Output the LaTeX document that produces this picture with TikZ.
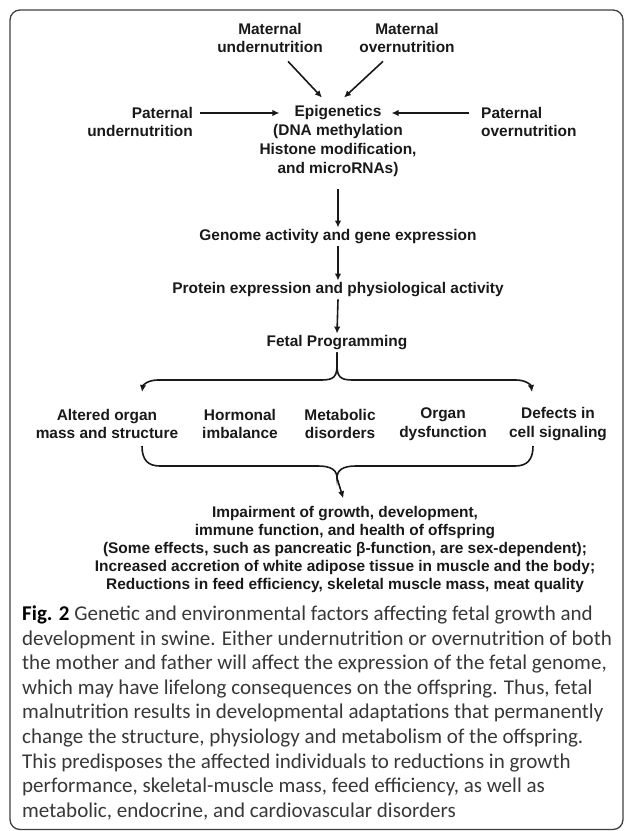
\documentclass[tikz,border=0pt]{standalone}
\usepackage{fontspec}
\setmainfont{Liberation Sans}
\newfontfamily\capfont{Carlito}
\usetikzlibrary{arrows.meta,positioning}

\begin{document}
\begin{tikzpicture}[x=1bp,y=-1bp,
  box/.style={font=\fontsize{15.5}{19}\selectfont\bfseries, align=center, inner sep=2bp, text=black!90},
  arr/.style={-{Latex[length=7bp,width=6.5bp]}, line width=1.6bp, black!90},
  brace/.style={line width=1.6bp, black!90}]
\useasboundingbox (0,0) rectangle (627,831);
\draw[black!75, line width=1.3bp, rounded corners=10bp] (10,10) rectangle (623,829.5);
% sources
\node[box] (MatUnder) at (270,38) {Maternal\\undernutrition};
\node[box] (MatOver) at (407,38) {Maternal\\overnutrition};
\node[box, align=right, anchor=east] (PatUnder) at (195,122) {Paternal\\undernutrition};
\node[box, align=left, anchor=west] (PatOver) at (479,122) {Paternal\\overnutrition};
\node[box] (Epi) at (338,113) {Epigenetics};
\node[box, below=0bp of Epi] (Mech) {(DNA methylation\\Histone modification,\\and microRNAs)};
\draw[arr] ([xshift=18bp,yshift=-6bp]MatUnder.south) -- ([xshift=-16bp,yshift=6bp]Epi.north);
\draw[arr] ([xshift=-24bp,yshift=-6bp]MatOver.south) -- ([xshift=6bp,yshift=6bp]Epi.north);
\draw[arr, shorten <=5bp, shorten >=13bp] (PatUnder.east |- Epi.west) -- (Epi.west);
\draw[arr, shorten <=10bp, shorten >=8bp] (PatOver.west |- Epi.east) -- (Epi.east);
% chain
\node[box] (Genome) at (338,237) {Genome activity and gene expression};
\node[box] (Protein) at (338,290) {Protein expression and physiological activity};
\node[box] (Fetal) at (337,343) {Fetal Programming};
\draw[arr, shorten <=10bp] (Mech.south) -- (Genome.north);
\draw[arr] (Genome.south) -- (Protein.north);
\draw[arr] (Protein.south) -- (Fetal.north);
% outcomes
\node[box] (Altered) at (107,424) {Altered organ\\mass and structure};
\node[box] (Hormonal) at (240,424) {Hormonal\\imbalance};
\node[box] (Metabolic) at (340,424) {Metabolic\\disorders};
\node[box] (Organ) at (443,424) {Organ\\dysfunction};
\node[box] (Defects) at (558,424) {Defects in\\cell signaling};
\coordinate (TopL) at (142,392);
\coordinate (TopR) at (532,392);
\draw[arr] (Fetal.south) -- (337,366) .. controls (337,380) and (330,380) .. (318,380) -- (158,380) .. controls (148,380) and (143,385) .. (TopL);
\draw[arr] (Fetal.south) -- (337,366) .. controls (337,380) and (344,380) .. (356,380) -- (516,380) .. controls (526,380) and (531,385) .. (TopR);
\coordinate (BotL) at (142,446);
\coordinate (BotR) at (533,446);
\node[box, anchor=north, font=\fontsize{15.5}{18}\selectfont\bfseries] (Impair) at (345,504) {Impairment of growth, development,\\immune function, and health of offspring\\(Some effects, such as pancreatic β-function, are sex-dependent);\\Increased accretion of white adipose tissue in muscle and the body;\\Reductions in feed efficiency, skeletal muscle mass, meat quality};
\draw[brace] (BotL) .. controls (142,460) and (148,466) .. (160,466) -- (318,466) .. controls (331,466) and (337,470) .. (337,478) coordinate (BotCusp)
  .. controls (337,470) and (343,466) .. (356,466) -- (515,466) .. controls (527,466) and (533,460) .. (BotR);
\draw[arr, shorten >=6bp] (BotCusp) -- (Impair.north);
% caption
\node[anchor=north west, align=left, inner sep=0pt, text=black!78, font=\capfont\fontsize{21.1}{24.6}\selectfont] (Caption) at (22,606) {{\color{black}\bfseries Fig. 2} Genetic and environmental factors affecting fetal growth and\\development in swine. Either undernutrition or overnutrition of both\\the mother and father will affect the expression of the fetal genome,\\which may have lifelong consequences on the offspring. Thus, fetal\\malnutrition results in developmental adaptations that permanently\\change the structure, physiology and metabolism of the offspring.\\This predisposes the affected individuals to reductions in growth\\performance, skeletal-muscle mass, feed efficiency, as well as\\metabolic, endocrine, and cardiovascular disorders};
\end{tikzpicture}
\end{document}
